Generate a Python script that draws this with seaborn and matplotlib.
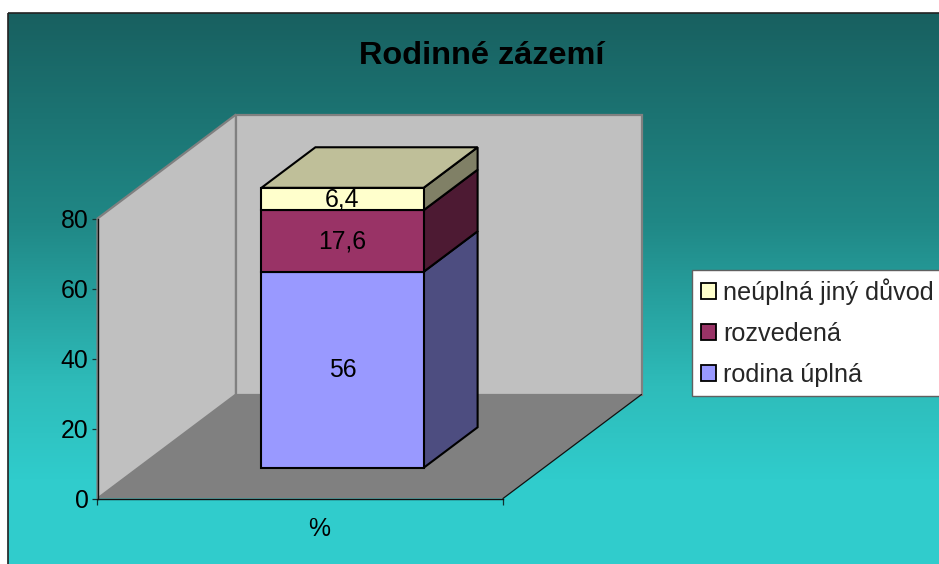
import numpy as np
import pandas as pd
import matplotlib
matplotlib.use("Agg")
import matplotlib.pyplot as plt
from matplotlib.colors import LinearSegmentedColormap
from matplotlib.patches import Rectangle
import seaborn as sns

title = "Rodinné zázemí"
category = "%"
series_names = ["rodina úplná", "rozvedená", "neúplná jiný důvod"]
series_values = [56, 17.6, 6.4]
value_labels = ["56", "17,6", "6,4"]
y_ticks = [0, 20, 40, 60, 80]

front_colors = ["#9999FF", "#993366", "#FFFFCC"]
side_colors = ["#4D4D80", "#4D1A33", "#808066"]
top_color = "#BFBF99"

sns.set_theme(style="white")
plt.rcParams["font.family"] = ["Liberation Sans", "DejaVu Sans"]

W, H = 939, 564
fig = plt.figure(figsize=(W / 100, H / 100), dpi=100, facecolor="white")

# pozadi s prechodem
bg = fig.add_axes([0, 0, 1, 1])
bg.axis("off")
grad = LinearSegmentedColormap.from_list(
    "bg", [(0, "#186060"), (0.45, "#208886"), (0.8, "#2EBCBA"), (1, "#30CCCC")])
bg.imshow(np.linspace(0, 1, 256).reshape(-1, 1), cmap=grad, aspect="auto",
          extent=(8, W + 10, 480, 13), zorder=1)
bg.add_patch(Rectangle((8, 480), W, 100, color="#30CCCC", zorder=1))
bg.set_xlim(0, W)
bg.set_ylim(H, 0)
bg.add_patch(Rectangle((7.5, 13), W + 20, H + 20, fill=False, edgecolor="#222222",
                       linewidth=1.2, zorder=2))

# predni rovina grafu
ax = fig.add_axes([97.5 / W, 1 - 498.5 / H, 405.5 / W, 280 / H], facecolor="none")
ax.set_ylim(0, 80)

depth_x = 138.5 / 405.5
depth_y = 104 / 3.5
front_d = 0.305
back_d = 0.695


def project(x, value, d):
    return x + d * depth_x, value + d * depth_y


def face(points, **kws):
    xs, ys = zip(*[project(*p) for p in points])
    ax.fill(xs, ys, clip_on=False, **kws)


# steny a podlaha
wall = dict(facecolor="#C0C0C0", edgecolor="#808080", linewidth=1.6, zorder=1)
face([(-0.5, 0, 0), (-0.5, 0, 1), (-0.5, 80, 1), (-0.5, 80, 0)], **wall)
face([(-0.5, 0, 1), (0.5, 0, 1), (0.5, 80, 1), (-0.5, 80, 1)], **wall)
face([(-0.5, 0, 0), (0.5, 0, 0), (0.5, 0, 1), (-0.5, 0, 1)],
     facecolor="#808080", edgecolor="none", zorder=2)
xe0, ye0 = project(0.5, 0, 0)
xe1, ye1 = project(0.5, 0, 1)
ax.plot([xe0, xe1], [ye0, ye1], color="#111111", lw=0.9, clip_on=False, zorder=3)

df = pd.DataFrame({"cat": [category] * 3, "name": series_names, "value": series_values})
bar_w = 0.4
base = front_d * depth_y
left = -bar_w / 2
right = bar_w / 2
cum = -0.3
for i, row in df.iterrows():
    # bok sloupce
    face([(right, cum, front_d), (right, cum, back_d),
          (right, cum + row["value"], back_d), (right, cum + row["value"], front_d)],
         facecolor=side_colors[i], edgecolor="black", linewidth=1.5, zorder=4)
    n_before = len(ax.containers)
    sns.barplot(data=df[df["name"] == row["name"]], x="cat", y="value", ax=ax,
                bottom=cum + base, width=bar_w, color=front_colors[i], saturation=1,
                edgecolor="black", linewidth=1.5, label=row["name"], zorder=6)
    cont = ax.containers[n_before]
    for p in cont:
        p.set_x(p.get_x() + front_d * depth_x)
        # bar_label na stredu bere prunik s clip boxem, sloupec saha nad osu
        p.set_clip_box(fig.bbox)
    texts = ax.bar_label(cont, labels=[value_labels[i]], label_type="center", fontsize=17.8,
                         color="black", zorder=7, annotation_clip=False)
    for t in texts:
        t.xyann = (0, -0.4)
    cum += row["value"]

face([(left, cum, front_d), (right, cum, front_d), (right, cum, back_d), (left, cum, back_d)],
     facecolor=top_color, edgecolor="black", linewidth=1.5, zorder=5)

ax.set_xlim(-0.5, 0.5)
ax.set_ylim(0, 80)
ax.set_ylabel("")
ax.set_xticks([-0.5, 0.5], ["", ""])
ax.set_yticks(y_ticks)
ax.tick_params(axis="y", direction="out", length=4.5, width=0.9, color="#103030",
               labelsize=17.8, labelcolor="black", pad=2, left=True)
ax.tick_params(axis="x", direction="out", length=4.5, width=0.9, color="#103030", bottom=True)
ax.set_xlabel(category, x=0.547, fontsize=17.8, color="black", labelpad=5)
for s in ["top", "right"]:
    ax.spines[s].set_visible(False)
for s in ["left", "bottom"]:
    ax.spines[s].set_color("#111111")
    ax.spines[s].set_linewidth(1.0)
    ax.spines[s].set_zorder(8)

fig.text(481.5 / W, 1 - 56 / H, title, ha="center", va="center", fontsize=23.4,
         fontweight="bold", color="black")

handles, labels = ax.get_legend_handles_labels()
if ax.get_legend() is not None:
    ax.get_legend().remove()
leg = fig.legend(handles[::-1], labels[::-1], loc="upper left",
                 bbox_to_anchor=(692 / W, 1 - 270 / H), fontsize=18.2, frameon=True,
                 fancybox=False, facecolor="white", edgecolor="#606060", framealpha=1,
                 handlelength=0.6, handleheight=0.6, handletextpad=0.28,
                 labelspacing=0.67, borderpad=0.34, borderaxespad=0)
leg.get_frame().set_linewidth(1.0)
for h in leg.legend_handles:
    h.set_linewidth(1.3)

fig.savefig("out.png", dpi=100)
